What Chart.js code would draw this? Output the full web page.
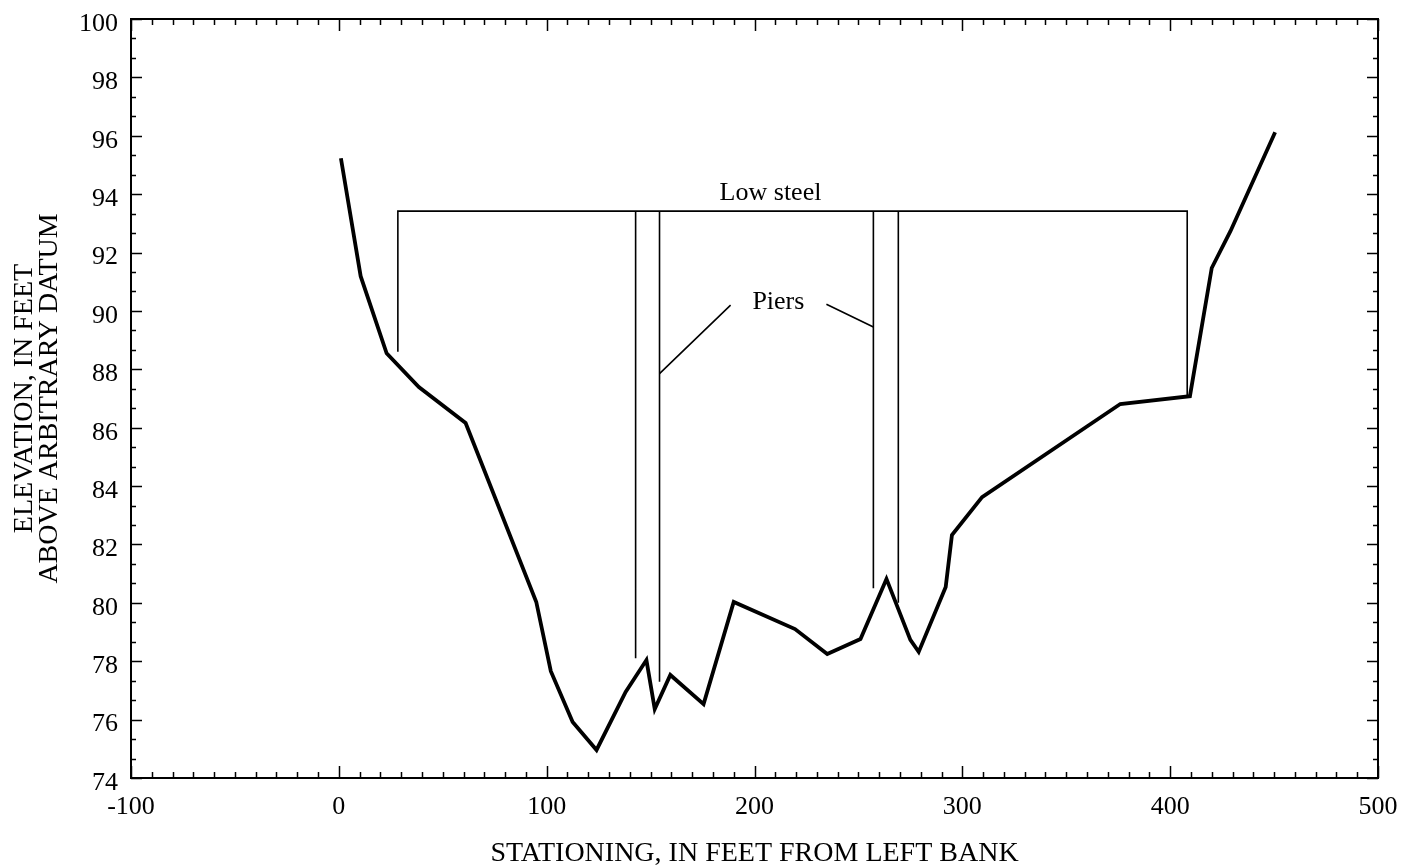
<!DOCTYPE html>
<html>
<head>
<meta charset="utf-8">
<script src="https://cdn.jsdelivr.net/npm/chart.js@4/dist/chart.umd.min.js"></script>
<style>
  html, body { margin: 0; padding: 0; background: #fff; }
  #chart { display: block; }
</style>
</head>
<body>
<canvas id="chart" width="1401" height="865" style="width:1401px;height:865px"></canvas>
<script>
// channel profile
const stationing = [1, 10.5, 23, 38.5, 61, 95, 102, 112.5, 124, 138, 148, 152, 159.5, 175.5, 190,
  219.5, 235, 251, 263.5, 275, 279, 292, 295, 309.5, 376, 409.5, 420, 429, 450.5];
const elevation = [95.23, 91.19, 88.55, 87.39, 86.16, 80.03, 77.66, 75.92, 74.96, 76.95, 78.04, 76.36, 77.53, 76.53, 80.03,
  79.1, 78.25, 78.76, 80.82, 78.73, 78.32, 80.54, 82.32, 83.62, 86.81, 87.08, 91.47, 92.73, 96.12];

// bridge low steel outline
const lowSteelX = [28.4, 28.4, 408.2, 408.2];
const lowSteelY = [88.6, 93.42, 93.42, 87.1];

// piers (each is a vertical line from low steel down)
const pierX = [142.8, 154.3, 257.2, 269.2];
const pierBottom = [78.1, 77.3, 80.5, 80.0];

// leader lines from "Piers" label
const leaderX = [154.3, 188.5, null, 234.6, 257.2];
const leaderY = [87.85, 90.2, null, 90.23, 89.45];

const xTicks = [-100, 0, 100, 200, 300, 400, 500];
const yTicks = [74, 76, 78, 80, 82, 84, 86, 88, 90, 92, 94, 96, 98, 100];

const FONT = "'Liberation Serif', 'Times New Roman', serif";

const toPoints = (xs, ys) => xs.map((x, i) => (x === null ? { x: null, y: null } : { x, y: ys[i] }));

const pierPoints = [];
pierX.forEach((x, i) => {
  pierPoints.push({ x, y: lowSteelY[1] }, { x, y: pierBottom[i] }, { x: null, y: null });
});

const annotations = [
  { text: "Low steel", x: 207.7, y: 94.03 },
  { text: "Piers", x: 211.5, y: 90.3 }
];

const framePlugin = {
  id: "frame",
  afterDraw(chart) {
    const { ctx, chartArea: a, scales } = chart;
    const xs = scales.x, ys = scales.y;
    ctx.save();
    ctx.strokeStyle = "#000";
    ctx.lineWidth = 2;
    ctx.strokeRect(a.left, a.top, a.right - a.left, a.bottom - a.top);

    ctx.lineWidth = 1.5;
    ctx.beginPath();
    // x ticks every 10, majors every 100, on bottom and top
    for (let v = -100; v <= 500; v += 10) {
      const px = Math.round(xs.getPixelForValue(v)) + 0.5;
      const len = v % 100 === 0 ? 12 : 6;
      ctx.moveTo(px, a.bottom); ctx.lineTo(px, a.bottom - len);
      ctx.moveTo(px, a.top); ctx.lineTo(px, a.top + len);
    }
    // y ticks: 3 per major interval, on left and right
    for (let k = 0; k <= 39; k++) {
      const v = 74 + k * 2 / 3;
      const py = Math.round(ys.getPixelForValue(v)) + 0.5;
      const len = k % 3 === 0 ? 11 : 5;
      ctx.moveTo(a.left, py); ctx.lineTo(a.left + len, py);
      ctx.moveTo(a.right, py); ctx.lineTo(a.right - len, py);
    }
    ctx.stroke();

    ctx.fillStyle = "#000";
    ctx.font = "26px " + FONT;
    ctx.textAlign = "center";
    ctx.textBaseline = "middle";
    annotations.forEach(t => {
      ctx.fillText(t.text, xs.getPixelForValue(t.x), ys.getPixelForValue(t.y));
    });
    ctx.restore();
  }
};

new Chart(document.getElementById("chart"), {
  type: "line",
  data: {
    datasets: [
      {
        data: toPoints(stationing, elevation),
        borderColor: "#000",
        borderWidth: 3.8,
        pointRadius: 0,
        tension: 0
      },
      {
        data: toPoints(lowSteelX, lowSteelY),
        borderColor: "#000",
        borderWidth: 1.6,
        pointRadius: 0
      },
      {
        data: pierPoints,
        borderColor: "#000",
        borderWidth: 1.6,
        pointRadius: 0,
        spanGaps: false
      },
      {
        data: toPoints(leaderX, leaderY),
        borderColor: "#000",
        borderWidth: 1.6,
        pointRadius: 0,
        spanGaps: false
      }
    ]
  },
  options: {
    responsive: false,
    animation: false,
    layout: { padding: { left: 0, right: 23, top: 19, bottom: 0 } },
    plugins: { legend: { display: false }, tooltip: { enabled: false } },
    scales: {
      x: {
        type: "linear",
        min: -100,
        max: 500,
        afterBuildTicks: s => { s.ticks = xTicks.map(v => ({ value: v })); },
        afterFit: s => { s.height = 87; s.paddingLeft = 0; s.paddingRight = 0; },
        grid: { display: false, drawTicks: false },
        border: { display: false },
        ticks: { color: "#000", font: { family: FONT, size: 26 }, padding: 14, maxRotation: 0 },
        title: {
          display: true,
          text: "STATIONING, IN FEET FROM LEFT BANK",
          color: "#000",
          font: { family: FONT, size: 28, lineHeight: 1 },
          padding: { top: 0, bottom: -3 }
        }
      },
      y: {
        type: "linear",
        min: 74,
        max: 100,
        afterBuildTicks: s => { s.ticks = yTicks.map(v => ({ value: v })); },
        afterFit: s => { s.width = 131; s.paddingTop = 0; s.paddingBottom = 0; },
        grid: { display: false, drawTicks: false },
        border: { display: false },
        ticks: { color: "#000", font: { family: FONT, size: 26 }, padding: 13, labelOffset: 5 },
        title: {
          display: true,
          text: ["ELEVATION, IN FEET", "ABOVE ARBITRARY DATUM"],
          color: "#000",
          font: { family: FONT, size: 28, lineHeight: "25px" },
          padding: { top: 12, bottom: 0 }
        }
      }
    }
  },
  plugins: [framePlugin]
});
</script>
</body>
</html>
